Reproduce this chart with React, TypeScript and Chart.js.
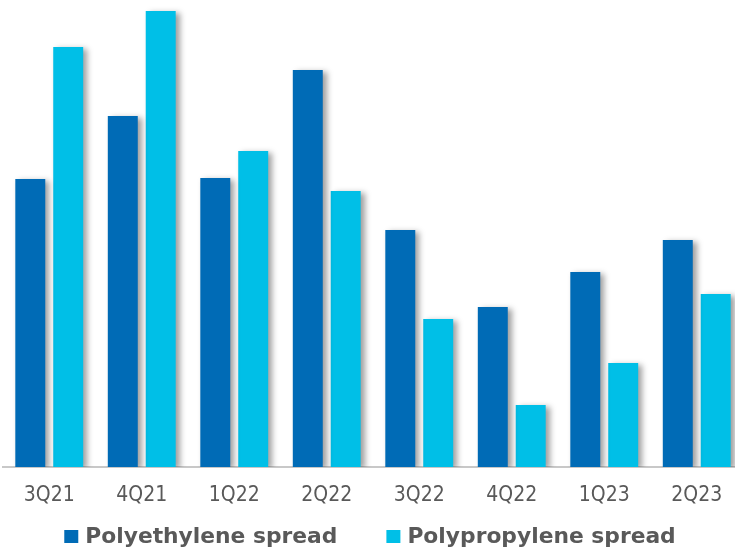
import React, { useEffect, useRef } from "react";
import { Chart, registerables } from "chart.js";

Chart.register(...registerables);

const quarters = ["3Q21", "4Q21", "1Q22", "2Q22", "3Q22", "4Q22", "1Q23", "2Q23"];
const polyethyleneSpread = [288, 351, 289, 397, 237, 160, 195, 227];
const polypropyleneSpread = [420, 456, 316, 276, 148, 62, 104, 173];
const seriesNames = ["Polyethylene spread", "Polypropylene spread"];

const PE_COLOR = "#006bb6";
const PP_COLOR = "#00bfe7";
const TEXT_COLOR = "#595959";
const LEGEND_FONT = "bold 21.8px 'DejaVu Sans'";

// Soft drop shadow behind the bars
const barShadow = {
  id: "barShadow",
  beforeDatasetsDraw(chart: any) {
    const ctx = chart.ctx;
    ctx.save();
    ctx.shadowColor = "rgba(0,0,0,0.38)";
    ctx.shadowBlur = 6;
    ctx.shadowOffsetX = 4;
    ctx.shadowOffsetY = 2;
  },
  afterDatasetsDraw(chart: any) {
    chart.ctx.restore();
  },
};

// Centered legend row under the axis labels
const bottomLegend = {
  id: "bottomLegend",
  afterDraw(chart: any) {
    const ctx = chart.ctx;
    const box = 14;
    const textGap = 7;
    const itemGap = 49;
    ctx.save();
    ctx.font = LEGEND_FONT;
    const items = chart.data.datasets.map((ds: any) => ({
      label: ds.label as string,
      color: ds.backgroundColor as string,
      w: ctx.measureText(ds.label).width,
    }));
    const total =
      items.reduce((s: number, it: any) => s + box + textGap + it.w, 0) +
      itemGap * (items.length - 1);
    let x = chart.width / 2 - total / 2;
    const baseline = chart.height - 9;
    items.forEach((it: any) => {
      ctx.fillStyle = it.color;
      ctx.fillRect(x, baseline - 13, box, 13);
      x += box + textGap;
      ctx.fillStyle = TEXT_COLOR;
      ctx.textBaseline = "alphabetic";
      ctx.textAlign = "left";
      ctx.fillText(it.label, x, baseline);
      x += it.w + itemGap;
    });
    ctx.restore();
  },
};

export default function App() {
  const ref = useRef<HTMLCanvasElement>(null);

  useEffect(() => {
    if (!ref.current) return;
    const chart = new Chart(ref.current, {
      type: "bar",
      data: {
        labels: quarters,
        datasets: [
          {
            label: seriesNames[0],
            data: polyethyleneSpread,
            backgroundColor: PE_COLOR,
            borderWidth: 0,
          },
          {
            label: seriesNames[1],
            data: polypropyleneSpread,
            backgroundColor: PP_COLOR,
            borderWidth: 0,
          },
        ],
      },
      plugins: [barShadow, bottomLegend],
      options: {
        animation: false,
        responsive: false,
        maintainAspectRatio: false,
        layout: { padding: { left: 6, right: 0, top: 0, bottom: 43 } },
        datasets: {
          bar: { categoryPercentage: 0.82, barPercentage: 0.79 },
        },
        scales: {
          x: {
            grid: { display: false, drawTicks: false },
            border: { display: true, color: "#c8c8c8", width: 2 },
            ticks: {
              color: TEXT_COLOR,
              font: { family: "'DejaVu Sans Condensed'", size: 21 },
              padding: 16,
            },
            afterFit(scale: any) {
              scale.height = 42;
            },
          },
          y: {
            display: false,
            min: 0,
            max: 467,
          },
        },
        plugins: {
          tooltip: { enabled: false },
          legend: { display: false },
        },
      },
    });
    return () => chart.destroy();
  }, []);

  return (
    <div
      style={{
        position: "fixed",
        left: 0,
        top: 0,
        width: 735,
        height: 552,
        overflow: "hidden",
        background: "#ffffff",
      }}
    >
      <canvas
        ref={ref}
        width={746}
        height={552}
        style={{ position: "absolute", left: -3, top: 0, width: 746, height: 552 }}
      />
    </div>
  );
}
